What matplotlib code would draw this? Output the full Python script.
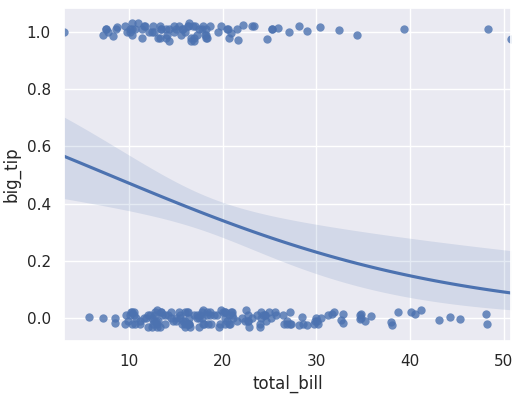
import numpy as np
import matplotlib
matplotlib.use("Agg")
import matplotlib.pyplot as plt
import seaborn as sns

# tips data: total bill and tip for each party
total_bill = [
    16.99, 10.34, 21.01, 23.68, 24.59, 25.29, 8.77, 26.88, 15.04, 14.78,
    10.27, 35.26, 15.42, 18.43, 14.83, 21.58, 10.33, 16.29, 16.97, 20.65,
    17.92, 20.29, 15.77, 39.42, 19.82, 17.81, 13.37, 12.69, 21.70, 19.65,
    9.55, 18.35, 15.06, 20.69, 17.78, 24.06, 16.31, 16.93, 18.69, 31.27,
    16.04, 17.46, 13.94, 9.68, 30.40, 18.29, 22.23, 32.40, 28.55, 18.04,
    12.54, 10.29, 34.81, 9.94, 25.56, 19.49, 38.01, 26.41, 11.24, 48.27,
    20.29, 13.81, 11.02, 18.29, 17.59, 20.08, 16.45, 3.07, 20.23, 15.01,
    12.02, 17.07, 26.86, 25.28, 14.73, 10.51, 17.92, 27.20, 22.76, 17.29,
    19.44, 16.66, 10.07, 32.68, 15.98, 34.83, 13.03, 18.28, 24.71, 21.16,
    28.97, 22.49, 5.75, 16.32, 22.75, 40.17, 27.28, 12.03, 21.01, 12.46,
    11.35, 15.38, 44.30, 22.42, 20.92, 15.36, 20.49, 25.21, 18.24, 14.31,
    14.00, 7.25, 38.07, 23.95, 25.71, 17.31, 29.93, 10.65, 12.43, 24.08,
    11.69, 13.42, 14.26, 15.95, 12.48, 29.80, 8.52, 14.52, 11.38, 22.82,
    19.08, 20.27, 11.17, 12.26, 18.26, 8.51, 10.33, 14.15, 16.00, 13.16,
    17.47, 34.30, 41.19, 27.05, 16.43, 8.35, 18.64, 11.87, 9.78, 7.51,
    14.07, 13.13, 17.26, 24.55, 19.77, 29.85, 48.17, 25.00, 13.39, 16.49,
    21.50, 12.66, 16.21, 13.81, 17.51, 24.52, 20.76, 31.71, 10.59, 10.63,
    50.81, 15.81, 7.25, 31.85, 16.82, 32.90, 17.89, 14.48, 9.60, 34.63,
    34.65, 23.33, 45.35, 23.17, 40.55, 20.69, 20.90, 30.46, 18.15, 23.10,
    15.69, 19.81, 28.44, 15.48, 16.58, 7.56, 10.34, 43.11, 13.00, 13.51,
    18.71, 12.74, 13.00, 16.40, 20.53, 16.47, 26.59, 38.73, 24.27, 12.76,
    30.06, 25.89, 48.33, 13.27, 28.17, 12.90, 28.15, 11.59, 7.74, 30.14,
    12.16, 13.42, 8.58, 15.98, 13.42, 16.27, 10.09, 20.45, 13.28, 22.12,
    24.01, 15.69, 11.61, 10.77, 15.53, 10.07, 12.60, 32.83, 35.83, 29.03,
    27.18, 22.67, 17.82, 18.78,
]
tip = [
    1.01, 1.66, 3.50, 3.31, 3.61, 4.71, 2.00, 3.12, 1.96, 3.23,
    1.71, 5.00, 1.57, 3.00, 3.02, 3.92, 1.67, 3.71, 3.50, 3.35,
    4.08, 2.75, 2.23, 7.58, 3.18, 2.34, 2.00, 2.00, 4.30, 3.00,
    1.45, 2.50, 3.00, 2.45, 3.27, 3.60, 2.00, 3.07, 2.31, 5.00,
    2.24, 2.54, 3.06, 1.32, 5.60, 3.00, 5.00, 6.00, 2.05, 3.00,
    2.50, 2.60, 5.20, 1.56, 4.34, 3.51, 3.00, 1.50, 1.76, 6.73,
    3.21, 2.00, 1.98, 3.76, 2.64, 3.15, 2.47, 1.00, 2.01, 2.09,
    1.97, 3.00, 3.14, 5.00, 2.20, 1.25, 3.08, 4.00, 3.00, 2.71,
    3.00, 3.40, 1.83, 5.00, 2.03, 5.17, 2.00, 4.00, 5.85, 3.00,
    3.00, 3.50, 1.00, 4.30, 3.25, 4.73, 4.00, 1.50, 3.00, 1.50,
    2.50, 3.00, 2.50, 3.48, 4.08, 1.64, 4.06, 4.29, 3.76, 4.00,
    3.00, 1.00, 4.00, 2.55, 4.00, 3.50, 5.07, 1.50, 1.80, 2.92,
    2.31, 1.68, 2.50, 2.00, 2.52, 4.20, 1.48, 2.00, 2.00, 2.18,
    1.50, 2.83, 1.50, 2.00, 3.25, 1.25, 2.00, 2.00, 2.00, 2.75,
    3.50, 6.70, 5.00, 5.00, 2.30, 1.50, 1.36, 1.63, 1.73, 2.00,
    2.50, 2.00, 2.74, 2.00, 2.00, 5.14, 5.00, 3.75, 2.61, 2.00,
    3.50, 2.50, 2.00, 2.00, 3.00, 3.48, 2.24, 4.50, 1.61, 2.00,
    10.00, 3.16, 5.15, 3.18, 4.00, 3.11, 2.00, 2.00, 4.00, 3.55,
    3.68, 5.65, 3.50, 6.50, 3.00, 5.00, 3.50, 2.00, 3.50, 4.00,
    1.50, 4.19, 2.56, 2.02, 4.00, 1.44, 2.00, 5.00, 2.00, 2.00,
    4.00, 2.01, 2.00, 2.50, 4.00, 3.23, 3.41, 3.00, 2.03, 2.23,
    2.00, 5.16, 9.00, 2.50, 6.50, 1.10, 3.00, 1.50, 1.44, 3.09,
    2.20, 3.48, 1.92, 3.00, 1.58, 2.50, 2.00, 3.00, 2.72, 2.88,
    2.00, 3.00, 3.39, 1.47, 3.00, 1.25, 1.00, 1.17, 4.67, 5.92,
    2.00, 2.00, 1.75, 3.00,
]
# vertical offsets of the drawn points (estimated)
y_jitter = [
    0.01, -0.02, 0.02, 0.01, -0.01, 0.012, 0.017, -0.02, -0.01, 0.02,
    0.02, -0.01, 0.01, -0.02, 0.00, 0.01, 0.02, 0.02, -0.02, 0.01,
    0.02, -0.02, -0.01, 0.012, 0.03, 0.02, -0.03, -0.01, -0.029, -0.03,
    -0.021, 0.01, 0.01, -0.02, 0.01, 0.00, 0.02, -0.03, 0.02, 0.01,
    -0.01, 0.00, 0.01, 0.01, 0.017, 0.02, 0.023, 0.008, -0.02, -0.02,
    0.02, 0.01, 0.00, -0.01, 0.02, 0.00, -0.013, 0.01, -0.022, -0.021,
    0.00, -0.02, 0.03, -0.02, 0.01, 0.02, 0.00, 0.00, 0.02, 0.00,
    -0.03, 0.02, -0.01, 0.012, -0.01, 0.02, 0.03, 0.02, -0.01, 0.01,
    0.01, -0.02, 0.01, -0.007, -0.03, 0.015, 0.03, -0.02, -0.023, 0.00,
    -0.025, 0.03, 0.003, 0.02, 0.01, 0.02, -0.02, 0.01, 0.01, -0.03,
    0.01, 0.02, 0.005, -0.01, -0.005, 0.02, 0.01, 0.00, 0.01, 0.01,
    -0.02, 0.002, -0.024, -0.02, 0.01, -0.01, 0.00, -0.02, 0.00, 0.02,
    0.02, 0.02, -0.03, -0.02, 0.00, -0.02, 0.002, 0.02, -0.02, -0.03,
    0.01, 0.02, -0.01, 0.01, -0.01, -0.018, 0.03, 0.01, 0.02, -0.02,
    0.01, -0.01, 0.028, 0.00, -0.02, -0.014, 0.01, 0.00, 0.00, 0.01,
    -0.01, -0.01, 0.00, 0.01, -0.02, -0.01, 0.014, 0.02, 0.01, -0.03,
    -0.01, 0.00, 0.02, 0.01, -0.03, 0.01, -0.02, 0.015, 0.01, 0.01,
    -0.025, 0.01, -0.012, 0.02, 0.02, 0.016, -0.02, 0.00, 0.02, 0.01,
    -0.003, 0.021, -0.003, 0.02, 0.016, -0.02, 0.02, 0.00, -0.01, 0.00,
    -0.02, 0.02, 0.005, 0.00, -0.03, 0.01, -0.01, -0.005, -0.02, 0.01,
    0.02, 0.01, -0.03, -0.02, 0.01, 0.03, -0.02, 0.02, 0.01, 0.02,
    -0.01, 0.014, 0.012, -0.02, 0.021, -0.01, -0.025, 0.00, 0.00, -0.02,
    0.00, 0.01, 0.01, 0.00, 0.02, -0.02, 0.00, -0.01, 0.02, 0.00,
    -0.03, 0.01, 0.02, 0.00, -0.01, 0.01, -0.02, -0.016, 0.007, 0.003,
    -0.02, -0.01, 0.00, -0.02,
]

x = np.array(total_bill)
big_tip = (np.array(tip) / x > 0.175).astype(float)

# logistic regression by IRLS
X = np.column_stack([np.ones_like(x), x])
beta = np.zeros(2)
for _ in range(50):
    p = 1 / (1 + np.exp(-X @ beta))
    W = p * (1 - p)
    H = X.T @ (X * W[:, None])
    beta = beta + np.linalg.solve(H, X.T @ (big_tip - p))
p = 1 / (1 + np.exp(-X @ beta))
cov = np.linalg.inv(X.T @ (X * (p * (1 - p))[:, None]))

grid = np.linspace(x.min(), x.max(), 100)
G = np.column_stack([np.ones_like(grid), grid])
eta = G @ beta
se = np.sqrt(np.einsum("ij,jk,ik->i", G, cov, G))
expit = lambda z: 1 / (1 + np.exp(-z))

sns.set_theme()
fig = plt.figure(figsize=(5.2, 3.97), dpi=100)
ax = fig.add_axes([0.123, 0.141, 0.860, 0.839])

color = sns.color_palette()[0]
ax.scatter(x, big_tip + np.array(y_jitter), s=36, color=color, alpha=0.8, linewidths=0)
ax.plot(grid, expit(eta), color=color, lw=2.25)
ax.fill_between(grid, expit(eta - 1.96 * se), expit(eta + 1.96 * se),
                color=color, alpha=0.15, linewidth=0)

ax.set_xlim(x.min(), x.max())
ax.set_ylim(-0.08, 1.084)
ax.set_xlabel("total_bill")
ax.set_ylabel("big_tip")

fig.savefig("out.png", dpi=100)
